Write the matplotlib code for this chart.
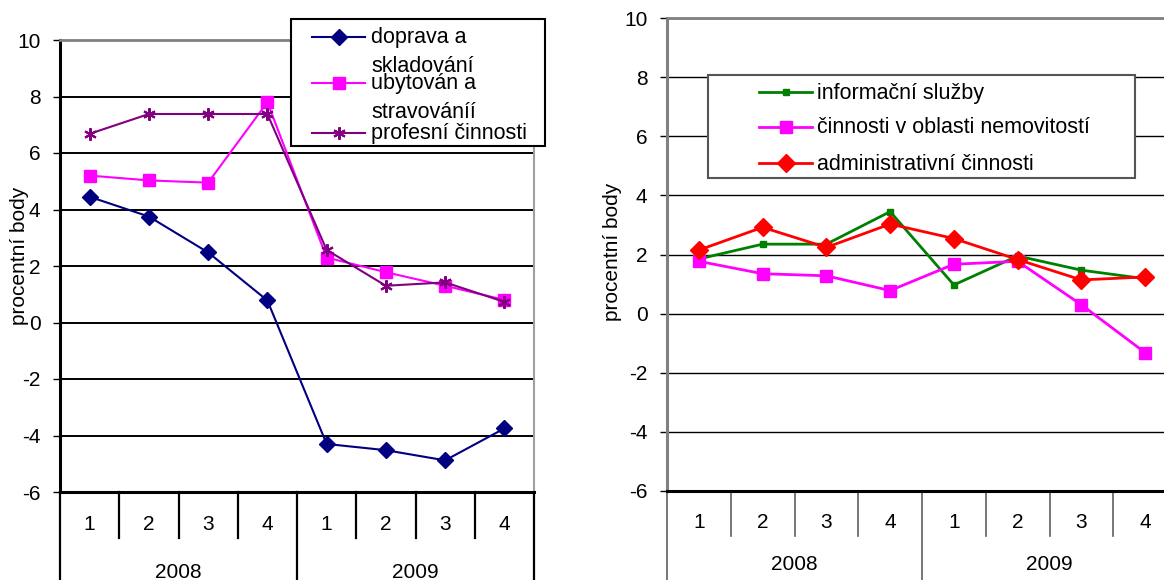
import matplotlib.pyplot as plt
from matplotlib.lines import Line2D
from matplotlib.patches import Rectangle
from matplotlib.transforms import blended_transform_factory

plt.rcParams["font.family"] = ["Liberation Sans", "DejaVu Sans"]
plt.rcParams["font.size"] = 15
plt.rcParams["axes.unicode_minus"] = False

# data
quarters = ["1", "2", "3", "4", "1", "2", "3", "4"]
years = ["2008", "2009"]

doprava = [4.45, 3.75, 2.48, 0.78, -4.3, -4.52, -4.88, -3.75]
ubytovani = [5.2, 5.03, 4.95, 7.8, 2.3, 1.78, 1.3, 0.8]
profesni = [6.68, 7.38, 7.38, 7.38, 2.57, 1.3, 1.42, 0.73]

informacni = [1.85, 2.35, 2.35, 3.45, 0.97, 1.95, 1.47, 1.18]
nemovitosti = [1.77, 1.35, 1.28, 0.78, 1.67, 1.77, 0.3, -1.32]
administrativni = [2.15, 2.92, 2.24, 3.03, 2.54, 1.83, 1.14, 1.24]

W, H = 1164, 580
fig = plt.figure(figsize=(W / 100, H / 100), dpi=100)


def fx(px):
    return px / W


def fy(py):
    return 1 - py / H


ax1 = fig.add_axes([fx(60), fy(492), fx(534) - fx(60), fy(40) - fy(492)])
ax2 = fig.add_axes([fx(667), fy(491), fx(1177) - fx(667), fy(18) - fy(491)])

x = list(range(1, len(quarters) + 1))

ax1.plot(x, doprava, color="#000080", lw=1.5, marker="D", ms=8)
ax1.plot(x, ubytovani, color="#FF00FF", lw=1.5, marker="s", ms=8.5)
ax1.plot(x, profesni, color="#800080", lw=1.5, marker=(6, 2, 0), ms=9, mew=1.5)

ax2.plot(x, informacni, color="#008000", lw=2, marker="s", ms=5)
ax2.plot(x, nemovitosti, color="#FF00FF", lw=2, marker="s", ms=9)
ax2.plot(x, administrativni, color="#FF0000", lw=2, marker="D", ms=9)


def style(ax, grid_lw, sep_color, sep_lw, q_y, q_depth, year_y, left_col, top_col):
    ax.set_xlim(0.5, 8.5)
    ax.set_ylim(-6, 10)
    ax.set_yticks(range(-6, 11, 2))
    ax.yaxis.grid(True, color="black", lw=grid_lw)
    ax.set_xticks([])
    ax.tick_params(axis="y", length=5, width=1, pad=9, labelsize=15)
    ax.spines["left"].set_color(left_col)
    ax.spines["left"].set_linewidth(2.2)
    ax.spines["bottom"].set_color("black")
    ax.spines["bottom"].set_linewidth(2.2)
    ax.spines["top"].set_color(top_col)
    ax.spines["top"].set_linewidth(2)
    ax.spines["right"].set_color("#a0a0a0")
    ax.spines["right"].set_linewidth(1.5)
    tr = blended_transform_factory(ax.transData, ax.transAxes)
    for i in range(len(quarters) + 1):
        sx = i + 0.5
        low = -0.5 if i % 4 == 0 else q_depth
        ax.plot([sx, sx], [0, low], transform=tr, color=sep_color, lw=sep_lw,
                clip_on=False)
    for xi, q in zip(x, quarters):
        ax.text(xi, q_y, q, transform=tr, ha="center", va="center", fontsize=15)
    for k, yr in enumerate(years):
        ax.text(2.5 + 4 * k, year_y, yr, transform=tr, ha="center", va="center",
                fontsize=15)


style(ax1, 1.4, "black", 1.6, -0.073, -0.102, -0.177, "black", "#808080")
style(ax2, 1.0, "#606060", 1.2, -0.067, -0.095, -0.155, "#808080", "#808080")

fig.text(fx(20), fy(256), "procentní body", rotation=90, ha="center",
         va="center", fontsize=15)
fig.text(fx(613), fy(252), "procentní body", rotation=90, ha="center",
         va="center", fontsize=15)


def legend_box(x0, y0, x1, y1, ec):
    fig.add_artist(Rectangle((fx(x0), fy(y1)), fx(x1) - fx(x0), fy(y0) - fy(y1),
                             transform=fig.transFigure, fc="white", ec=ec,
                             lw=1.5, zorder=5))


def legend_item(hx0, hx1, ty, row_y, label, **kw):
    fig.add_artist(Line2D([fx(hx0), fx(hx1)], [fy(row_y), fy(row_y)],
                          transform=fig.transFigure, color=kw["color"],
                          lw=kw.get("lw", 1.5), zorder=6))
    fig.add_artist(Line2D([fx((hx0 + hx1) / 2)], [fy(row_y)],
                          transform=fig.transFigure, color=kw["color"],
                          marker=kw["marker"], ms=kw["ms"],
                          mew=kw.get("mew", 1), zorder=6))
    # first line of the label sits next to the handle, the rest hangs below
    nlines = label.count("\n")
    fig.text(fx(ty), fy(row_y + 6.5 + 28.5 * nlines), label, ha="left",
             va="baseline", fontsize=15.5, linespacing=1.45, zorder=7)


# left legend
legend_box(291, 19, 545, 146, "black")
legend_item(312, 365, 371, 36.7, "doprava a\nskladování", color="#000080",
            marker="D", ms=8)
legend_item(312, 365, 371, 82.7, "ubytován a\nstravováníí", color="#FF00FF",
            marker="s", ms=8.5)
legend_item(312, 365, 371, 132.7, "profesní činnosti", color="#800080",
            marker=(6, 2, 0), ms=9, mew=1.5)

# right legend
legend_box(708, 75, 1135, 178, "#555555")
legend_item(759, 812, 817, 92, "informační služby", color="#008000",
            marker="s", ms=5, lw=2)
legend_item(759, 812, 817, 127, "činnosti v oblasti nemovitostí",
            color="#FF00FF", marker="s", ms=9, lw=2)
legend_item(759, 812, 817, 163, "administrativní činnosti", color="#FF0000",
            marker="D", ms=9, lw=2)

fig.savefig("out.png", dpi=100)
